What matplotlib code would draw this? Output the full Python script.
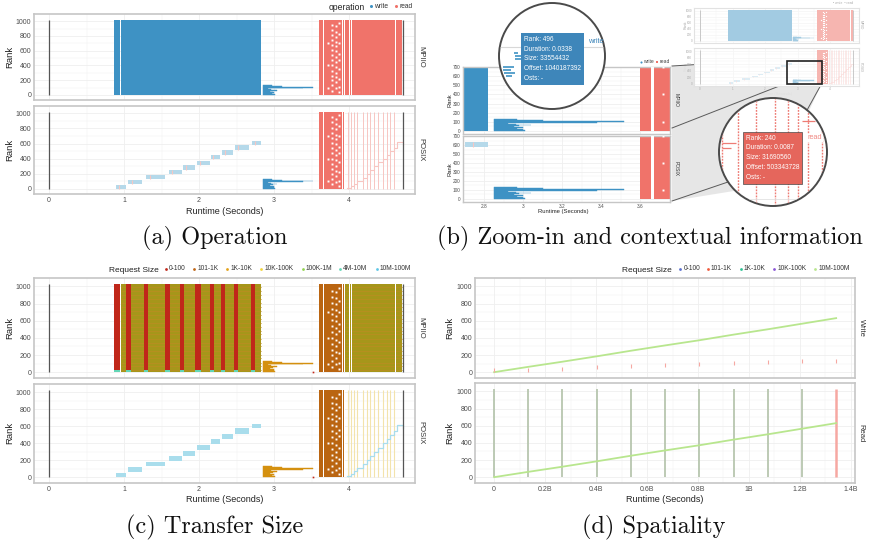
import matplotlib
matplotlib.use('Agg')
import matplotlib.pyplot as plt
from matplotlib.patches import Circle, Rectangle, Polygon
from matplotlib.lines import Line2D

# ---------------- data ----------------
RANK_TOP = 1023
time_ticks = [0, 1, 2, 3, 4]
rank_ticks = [0, 200, 400, 600, 800, 1000]
open_close_t = [0.0, 4.72]          # file open / close markers (s)

# MPIIO collective write phases (s)
mpiio_w_start = [0.87, 0.96]
mpiio_w_end = [0.94, 2.82]

# write tail (ranks 0-130), start time and end time per rank group
tail_start = 2.85
tail_rank = [0, 10, 20, 30, 40, 50, 60, 70, 80, 90, 100, 110, 120]
tail_end = [3.01, 3.00, 2.97, 3.00, 2.95, 2.98, 3.04, 2.96, 2.92, 3.38, 3.52, 3.10, 2.97]

# read phase
read_start = 3.60
read_end = 4.70
posix_dense_end = 3.95
read_gap_t = [3.655, 3.90, 3.935, 3.995, 4.03, 4.615]
fleck_t = [3.77] * 14 + [3.83] * 13 + [3.87] * 9 + [3.72] * 3
fleck_r = [60, 130, 200, 260, 330, 400, 470, 540, 610, 680, 740, 810, 880, 950,
           90, 170, 240, 300, 380, 450, 520, 600, 660, 720, 790, 860, 930,
           40, 110, 220, 350, 480, 560, 700, 830, 980,
           100, 400, 700]

# POSIX independent write groups
posix_grp_start = [0.89, 1.05, 1.29, 1.60, 1.78, 1.97, 2.16, 2.31, 2.48, 2.70]
posix_grp_end = [1.03, 1.24, 1.55, 1.77, 1.95, 2.14, 2.28, 2.45, 2.66, 2.82]
posix_grp_lo = [0, 60, 130, 195, 255, 320, 390, 450, 515, 575]
posix_grp_hi = [50, 120, 185, 245, 310, 375, 445, 510, 575, 632]
posix_grp_mark = [0.93, 1.10, 1.35, 1.64, 1.82, 2.01, 2.19, 2.35, 2.52, 2.74]

# POSIX read lines + staircase
posix_read_lines = [3.98, 4.03, 4.07, 4.11, 4.18, 4.24, 4.28, 4.33, 4.39, 4.45, 4.50, 4.55, 4.60]
stair_t = [3.97, 4.03, 4.07, 4.11, 4.18, 4.24, 4.28, 4.33, 4.39, 4.45, 4.50, 4.55, 4.60, 4.645, 4.72]
stair_r = [10, 40, 70, 110, 150, 200, 250, 300, 350, 400, 450, 500, 540, 620, 580]

# Transfer size (c)
size_labels_c = ['0-100', '101-1K', '1K-10K', '10K-100K', '100K-1M', '4M-10M', '10M-100M']
size_colors_c = ['#C0271A', '#BF6414', '#E3A21A', '#F2D43C', '#93D451', '#62D6B6', '#5EC6E6']
small_start = [0.87, 1.03, 1.26, 1.55, 1.74, 1.95, 2.15, 2.29, 2.47, 2.69]
small_end = [0.94, 1.09, 1.32, 1.61, 1.80, 2.03, 2.20, 2.35, 2.52, 2.75]
small_rank_split = 30
streak_ranks = [25, 70, 110, 160, 205, 250, 300, 345, 390, 440, 485, 530, 575, 620,
                670, 715, 760, 805, 850, 900, 945, 990]

# Spatiality (d) -- offsets in billions of bytes
size_labels_d = ['0-100', '101-1K', '1K-10K', '10K-100K', '10M-100M']
size_colors_d = ['#5A6FD0', '#F05A3C', '#2EC495', '#8A55D6', '#B8E68E']
offsets = [0, 0.134, 0.268, 0.403, 0.537, 0.671, 0.805, 0.940, 1.074, 1.208, 1.342]
offset_rank = [0, 62, 122, 185, 250, 312, 372, 438, 500, 565, 630]
small_req_rank = [20, 28, 40, 59, 71, 83, 94, 106, 118, 130, 134]
offset_ticks = [0, 0.2, 0.4, 0.6, 0.8, 1.0, 1.2, 1.4]
offset_ticklabels = ['0', '0.2B', '0.4B', '0.6B', '0.8B', '1B', '1.2B', '1.4B']

# zoom (b)
zoom_ticks = [2.8, 3.0, 3.2, 3.4, 3.6]
zoom_ticklabels = ['2.8', '3', '3.2', '3.4', '3.6']
zoom_rank_ticks = [0, 100, 200, 300, 400, 500, 600, 700]
zoom_xlim = (2.69, 3.754)
zoom_ylim = (0, 700)
tip_write = "Rank: 496\nDuration: 0.0338\nSize: 33554432\nOffset: 1040187392\nOsts: -"
tip_read = "Rank: 240\nDuration: 0.0087\nSize: 31690560\nOffset: 503343728\nOsts: -"
mag1_rank = [497, 495, 493, 488, 486, 484, 482]
mag1_start = [2.911, 2.912, 2.912, 2.903, 2.903, 2.904, 2.905]
mag1_end = [2.914, 2.918, 2.919, 2.911, 2.909, 2.912, 2.910]
mag2_lines = [3.6015, 3.609, 3.618, 3.627, 3.633, 3.638, 3.643, 3.6495]
mag2_h_t0 = [3.640, 3.6015, 3.6015]
mag2_h_t1 = [3.646, 3.608, 3.606]
mag2_h_r = [262, 236, 230]

# ---------------- colours ----------------
C_WRITE = '#3E92C4'
C_READ = '#F0736A'
C_WRITE_L = '#B5D9EA'
C_READ_L = '#F7C6C2'
C_MARK = '#555555'
C_OLIVE = '#A6961A'
C_STREAK = '#B68F20'
C_BROWN = '#BA6511'
C_ORANGE = '#D4900F'
C_CYAN = '#A9DDEC'
C_PALEY = '#F3E3AC'

W, H = 874, 543
plt.rcParams['font.family'] = ['Liberation Sans', 'DejaVu Sans']
fig = plt.figure(figsize=(W / 100, H / 100), dpi=100)


def add_ax(l, t, r, b, z=1):
    return fig.add_axes([l / W, 1 - b / H, (r - l) / W, (b - t) / H], zorder=z)


def ftext(x, y, s, **kw):
    return fig.text(x / W, 1 - y / H, s, **kw)


def fmark(x, y, color, ms=2.2, marker='o'):
    fig.add_artist(Line2D([x / W], [1 - y / H], marker=marker, color=color, ms=ms,
                          ls='none', mew=0, transform=fig.transFigure))


def style(ax, xlim, ylim, xticks, yticks, xlabels=None, fs=5.0, show_x=True,
          spine='#C6C6C6', lw=1.2, grid='#EFEFEF'):
    ax.set_xlim(*xlim)
    ax.set_ylim(*ylim)
    ax.set_xticks(xticks)
    ax.set_yticks(yticks)
    mx = [(a + b) / 2 for a, b in zip(xticks[:-1], xticks[1:])]
    my = [(a + b) / 2 for a, b in zip(yticks[:-1], yticks[1:])]
    ax.set_xticks(mx, minor=True)
    ax.set_yticks(my, minor=True)
    ax.grid(True, which='major', color=grid, lw=0.6)
    ax.grid(True, which='minor', color=grid, lw=0.35)
    ax.set_axisbelow(True)
    for s in ax.spines.values():
        s.set_color(spine)
        s.set_linewidth(lw)
    ax.tick_params(which='both', length=0, labelsize=fs, colors='#4D4D4D', pad=2)
    if xlabels is not None:
        ax.set_xticklabels(xlabels)
    if not show_x:
        ax.set_xticklabels([])


def widths(s, e):
    return [b - a for a, b in zip(s, e)]


def draw_tail(ax, color):
    ax.barh(tail_rank, widths([tail_start] * len(tail_end), tail_end), left=tail_start,
            height=10, align='edge', color=color, ec=color, lw=0.3, zorder=2)


def draw_operation(ax, layer, cw=C_WRITE, cr=C_READ, cwl=C_WRITE_L, crl=C_READ_L, cm=C_MARK,
                   lw_scale=1.0):
    ax.vlines(open_close_t, 0, RANK_TOP, color=cm, lw=0.9 * lw_scale, zorder=3)
    if layer == 'MPIIO':
        ax.bar(mpiio_w_start, RANK_TOP, width=widths(mpiio_w_start, mpiio_w_end), align='edge',
               color=cw, lw=0, zorder=2)
        ax.bar([read_start], RANK_TOP, width=read_end - read_start, align='edge', color=cr,
               lw=0, zorder=2)
        gaps = read_gap_t
    else:
        ax.bar(posix_grp_start, widths(posix_grp_lo, posix_grp_hi), bottom=posix_grp_lo,
               width=widths(posix_grp_start, posix_grp_end), align='edge', color=cwl, lw=0,
               zorder=2)
        ax.vlines(posix_grp_mark, posix_grp_lo, posix_grp_hi, color=crl, lw=0.8 * lw_scale,
                  zorder=3)
        ax.vlines(posix_read_lines, 0, RANK_TOP, color=crl, lw=0.7 * lw_scale, zorder=2)
        ax.step(stair_t, stair_r, where='post', color=crl, lw=0.8 * lw_scale, zorder=2)
        ax.bar([read_start], RANK_TOP, width=posix_dense_end - read_start, align='edge',
               color=cr, lw=0, zorder=2)
        gaps = [g for g in read_gap_t if g < posix_dense_end]
    draw_tail(ax, cw)
    ax.bar(gaps, RANK_TOP, width=0.016, align='edge', color='white', lw=0, zorder=3)
    ax.plot(fleck_t, fleck_r, 's', ms=1.4 * lw_scale, color='white', mew=0, zorder=4)


def draw_size(ax, layer):
    ax.vlines(open_close_t, 0, RANK_TOP, color=C_MARK, lw=0.9, zorder=3)
    if layer == 'MPIIO':
        ax.bar([mpiio_w_start[1]], RANK_TOP, width=mpiio_w_end[1] - mpiio_w_start[1],
               align='edge', color=C_OLIVE, lw=0, zorder=2)
        ax.hlines(streak_ranks, mpiio_w_start[1], mpiio_w_end[1], color=C_STREAK, lw=0.7, zorder=2)
        ax.bar(small_start, RANK_TOP - small_rank_split, bottom=small_rank_split,
               width=widths(small_start, small_end), align='edge', color=size_colors_c[0],
               lw=0, zorder=3)
        ax.bar(small_start, small_rank_split, bottom=0, width=widths(small_start, small_end),
               align='edge', color=size_colors_c[5], lw=0, zorder=3)
        ax.bar([read_start], RANK_TOP, width=posix_dense_end - read_start, align='edge',
               color=C_BROWN, lw=0, zorder=2)
        ax.bar([posix_dense_end], RANK_TOP, width=read_end - posix_dense_end, align='edge',
               color=C_OLIVE, lw=0, zorder=2)
        ax.hlines(streak_ranks, posix_dense_end, read_end, color=C_STREAK, lw=0.7, zorder=2)
        gaps = read_gap_t
    else:
        ax.bar(posix_grp_start, widths(posix_grp_lo, posix_grp_hi), bottom=posix_grp_lo,
               width=widths(posix_grp_start, posix_grp_end), align='edge', color=C_CYAN, lw=0,
               zorder=2)
        ax.vlines(posix_read_lines, 0, RANK_TOP, color=C_PALEY, lw=0.8, zorder=2)
        ax.step(stair_t, stair_r, where='post', color=C_CYAN, lw=0.9, zorder=2)
        ax.bar([read_start], RANK_TOP, width=posix_dense_end - read_start, align='edge',
               color=C_BROWN, lw=0, zorder=2)
        gaps = [g for g in read_gap_t if g < posix_dense_end]
    draw_tail(ax, C_ORANGE)
    ax.plot([tail_end[10]], [0], 's', ms=1.2, color=size_colors_c[0], mew=0, zorder=4)
    ax.bar(gaps, RANK_TOP, width=0.016, align='edge', color='white', lw=0, zorder=3)
    ax.plot(fleck_t, fleck_r, 's', ms=1.4, color='white', mew=0, zorder=4)


ylim_main = (-68, 1098)
xlim_main = (-0.2, 4.88)

# ================= (a) Operation =================
a_top = add_ax(34, 14, 415, 100)
a_bot = add_ax(34, 106, 415, 194)
for ax, layer in ((a_top, 'MPIIO'), (a_bot, 'POSIX')):
    style(ax, xlim_main, ylim_main, time_ticks, rank_ticks, show_x=(layer == 'POSIX'))
    draw_operation(ax, layer)
ftext(421, 57, 'MPIIO', rotation=270, ha='center', va='center', fontsize=5.5, color='#333333')
ftext(421, 150, 'POSIX', rotation=270, ha='center', va='center', fontsize=5.5, color='#333333')
ftext(10, 57, 'Rank', rotation=90, ha='center', va='center', fontsize=6.8, color='#222222')
ftext(10, 150, 'Rank', rotation=90, ha='center', va='center', fontsize=6.8, color='#222222')
ftext(225, 211, 'Runtime (Seconds)', ha='center', va='center', fontsize=6.5, color='#222222')
ftext(329, 7, 'operation', ha='left', va='center', fontsize=6.2, color='#222222')
fmark(371, 6, C_WRITE)
ftext(374.5, 6, 'write', ha='left', va='center', fontsize=4.8, color='#333333')
fmark(396, 6, C_READ)
ftext(399.5, 6, 'read', ha='left', va='center', fontsize=4.8, color='#333333')

# ================= (c) Transfer Size =================
c_top = add_ax(34, 278, 415, 378)
c_bot = add_ax(34, 384, 415, 483)
for ax, layer in ((c_top, 'MPIIO'), (c_bot, 'POSIX')):
    style(ax, xlim_main, ylim_main, time_ticks, rank_ticks, show_x=(layer == 'POSIX'))
    draw_size(ax, layer)
ftext(421, 328, 'MPIIO', rotation=270, ha='center', va='center', fontsize=5.5, color='#333333')
ftext(421, 433, 'POSIX', rotation=270, ha='center', va='center', fontsize=5.5, color='#333333')
ftext(10, 328, 'Rank', rotation=90, ha='center', va='center', fontsize=6.8, color='#222222')
ftext(10, 433, 'Rank', rotation=90, ha='center', va='center', fontsize=6.8, color='#222222')
ftext(225, 500, 'Runtime (Seconds)', ha='center', va='center', fontsize=6.5, color='#222222')
ftext(109, 270, 'Request Size', ha='left', va='center', fontsize=6.0, color='#222222')
leg_c_x = [165.7, 194, 227, 261, 302.7, 340, 376.7]
for x, lab, col in zip(leg_c_x, size_labels_c, size_colors_c):
    fmark(x, 268.5, col, ms=2.0)
    ftext(x + 3.3, 268.5, lab, ha='left', va='center', fontsize=4.8, color='#333333')

# ================= (d) Spatiality =================
d_top = add_ax(475, 278, 855, 378)
d_bot = add_ax(475, 383, 855, 483)
xlim_d = (-0.075, 1.416)
style(d_top, xlim_d, ylim_main, offset_ticks, rank_ticks, show_x=False)
style(d_bot, xlim_d, ylim_main, offset_ticks, rank_ticks, xlabels=offset_ticklabels)
d_top.plot(offsets, offset_rank, color=size_colors_d[4], lw=1.3, zorder=3)
d_top.plot(offsets, small_req_rank, '|', color='#F6A8A2', ms=2.2, mew=0.8, zorder=3)
d_bot.vlines(offsets[:-1], 0, RANK_TOP, color='#B7C6AF', lw=1.3, zorder=2)
d_bot.vlines(offsets[-1:], 0, RANK_TOP, color='#F6A8A2', lw=1.8, zorder=2)
d_bot.plot(offsets, offset_rank, color=size_colors_d[4], lw=1.3, zorder=3)
ftext(861, 328, 'Write', rotation=270, ha='center', va='center', fontsize=5.5, color='#333333')
ftext(861, 433, 'Read', rotation=270, ha='center', va='center', fontsize=5.5, color='#333333')
ftext(450, 328, 'Rank', rotation=90, ha='center', va='center', fontsize=6.8, color='#222222')
ftext(450, 433, 'Rank', rotation=90, ha='center', va='center', fontsize=6.8, color='#222222')
ftext(665, 500, 'Runtime (Seconds)', ha='center', va='center', fontsize=6.5, color='#222222')
ftext(622, 270, 'Request Size', ha='left', va='center', fontsize=6.0, color='#222222')
leg_d_x = [680, 707.7, 740.7, 774.3, 815]
for x, lab, col in zip(leg_d_x, size_labels_d, size_colors_d):
    fmark(x, 268.5, col, ms=2.0)
    ftext(x + 3.3, 268.5, lab, ha='left', va='center', fontsize=4.8, color='#333333')

# ================= (b) Zoom-in =================
# connector polygon (behind)
ov0 = fig.add_axes([0, 0, 1, 1], zorder=4)
ov0.set_xlim(0, W)
ov0.set_ylim(H, 0)
ov0.axis('off')
ov0.add_patch(Polygon([(672, 66), (787, 59), (787, 83), (822, 83), (790, 152), (740, 190),
                       (672, 201)], closed=True, fc='#E4E4E4', ec='none', alpha=0.9))
for (x0, y0), (x1, y1) in [((672, 66), (787, 59)), ((672, 128), (787, 83)),
                           ((822, 83), (806, 112)), ((672, 201), (728, 182))]:
    ov0.plot([x0, x1], [y0, y1], color='#5A5A5A', lw=0.7)

b_top = add_ax(463, 66.7, 670, 134, z=5)
b_bot = add_ax(463, 136, 670, 201.7, z=5)
for ax, layer in ((b_top, 'MPIIO'), (b_bot, 'POSIX')):
    style(ax, zoom_xlim, (-33, 703), zoom_ticks, zoom_rank_ticks, xlabels=zoom_ticklabels,
          fs=3.4, show_x=(layer == 'POSIX'), lw=1.0)
    draw_operation(ax, layer)
ftext(676, 100, 'MPIIO', rotation=270, ha='center', va='center', fontsize=3.6, color='#333333',
      zorder=6)
ftext(676, 169, 'POSIX', rotation=270, ha='center', va='center', fontsize=3.6, color='#333333',
      zorder=6)
ftext(450, 100, 'Rank', rotation=90, ha='center', va='center', fontsize=4.2, color='#222222')
ftext(450, 169, 'Rank', rotation=90, ha='center', va='center', fontsize=4.2, color='#222222')
ftext(563, 212, 'Runtime (Seconds)', ha='center', va='center', fontsize=4.2, color='#222222')
fmark(641, 61.5, C_WRITE, ms=1.5)
ftext(643.5, 61.5, 'write', ha='left', va='center', fontsize=3.6, color='#444444')
fmark(657, 61.5, C_READ, ms=1.8, marker='s')
ftext(659.5, 61.5, 'read', ha='left', va='center', fontsize=3.6, color='#444444')

# overview inset (faded)
i_top = add_ax(693.5, 8, 858.6, 43, z=6)
i_bot = add_ax(693.5, 48, 858.6, 86, z=6)
for ax, layer in ((i_top, 'MPIIO'), (i_bot, 'POSIX')):
    style(ax, xlim_main, ylim_main, time_ticks, rank_ticks, fs=2.2,
          show_x=(layer == 'POSIX'), spine='#E2E2E2', lw=0.8, grid='#F6F6F6')
    ax.tick_params(labelcolor='#AAAAAA', pad=1)
    draw_operation(ax, layer, cw='#A2CBE2', cr='#F6B5B0', cwl='#DDEDF5', crl='#FADCDA',
                   cm='#BBBBBB', lw_scale=0.6)
i_bot.add_patch(Rectangle((zoom_xlim[0], zoom_ylim[0]), zoom_xlim[1] - zoom_xlim[0],
                          zoom_ylim[1] - zoom_ylim[0], fill=False, ec='#222222', lw=1.2,
                          zorder=6))
ftext(861, 25, 'MPIIO', rotation=270, ha='center', va='center', fontsize=2.4, color='#AAAAAA')
ftext(861, 67, 'POSIX', rotation=270, ha='center', va='center', fontsize=2.4, color='#AAAAAA')
ftext(686, 25, 'Rank', rotation=90, ha='center', va='center', fontsize=2.6, color='#AAAAAA')
ftext(686, 67, 'Rank', rotation=90, ha='center', va='center', fontsize=2.6, color='#AAAAAA')
ftext(776, 94, 'Runtime (Seconds)', ha='center', va='center', fontsize=2.8, color='#AAAAAA')
ftext(843, 3.5, '• write  • read', ha='center', va='center', fontsize=2.4, color='#AAAAAA')

# magnifier circles
ov = fig.add_axes([0, 0, 1, 1], zorder=20)
ov.set_xlim(0, W)
ov.set_ylim(H, 0)
ov.axis('off')
ov.set_facecolor('none')

c1 = Circle((552, 56), 53, fc='white', ec='#4A4A4A', lw=1.4, zorder=1)
ov.add_patch(c1)
c2 = Circle((773, 152), 54, fc='white', ec='#4A4A4A', lw=1.4, zorder=1)
ov.add_patch(c2)

m1 = add_ax(499, 3, 605, 109, z=21)
m1.set_xlim(2.90, 2.98)
m1.set_ylim(460, 530)
m1.axis('off')
h1 = m1.hlines([501], 2.90, 2.98, color='#D8D8D8', lw=0.8)
h1.set_clip_path(Circle((552, 56), 52, transform=ov.transData))
m1.hlines(mag1_rank, mag1_start, mag1_end, color=C_WRITE, lw=1.2)
m1.text(0.235, 0.69, tip_write, transform=m1.transAxes, ha='left', va='top', fontsize=4.7,
        color='white', linespacing=1.55, zorder=5,
        bbox=dict(boxstyle='square,pad=0.45', fc='#3E86BA', ec='none'))
m1.text(0.84, 0.64, 'write', transform=m1.transAxes, ha='left', va='center', fontsize=5.3,
        color='#3E86BA', zorder=5)

m2 = add_ax(719, 98, 827, 206, z=21)
m2.set_xlim(3.600, 3.652)
m2.set_ylim(160, 290)
m2.axis('off')
m2.vlines(mag2_lines, 160, 290, color='#EE7C75', lw=1.0, linestyles=(0, (1.3, 0.9)))
m2.hlines(mag2_h_r, mag2_h_t0, mag2_h_t1, color='#EE7C75', lw=0.9)
m2.hlines([168], 3.600, 3.652, color='#E2E2E2', lw=0.6)
for art in m2.collections:
    art.set_clip_path(Circle((773, 152), 53, transform=ov.transData))
m2.text(0.25, 0.66, tip_read, transform=m2.transAxes, ha='left', va='top', fontsize=4.7,
        color='white', linespacing=1.55, zorder=5,
        bbox=dict(boxstyle='square,pad=0.45', fc='#E5665C', ec='#4A4A4A', lw=0.5))
m2.text(0.82, 0.63, 'read', transform=m2.transAxes, ha='left', va='center', fontsize=5.3,
        color='#F08A84', zorder=5,
        bbox=dict(boxstyle='square,pad=0.1', fc='white', ec='none'))

# ================= captions =================
cap_kw = dict(ha='center', va='center', fontsize=17.5, family='cmr10', color='#111111')
ftext(215, 238, '(a) Operation', **cap_kw)
ftext(650, 238, '(b) Zoom-in and contextual information', **cap_kw)
ftext(215, 527, '(c) Transfer Size', **cap_kw)
ftext(654, 527, '(d) Spatiality', **cap_kw)

fig.savefig('out.png', dpi=100)
